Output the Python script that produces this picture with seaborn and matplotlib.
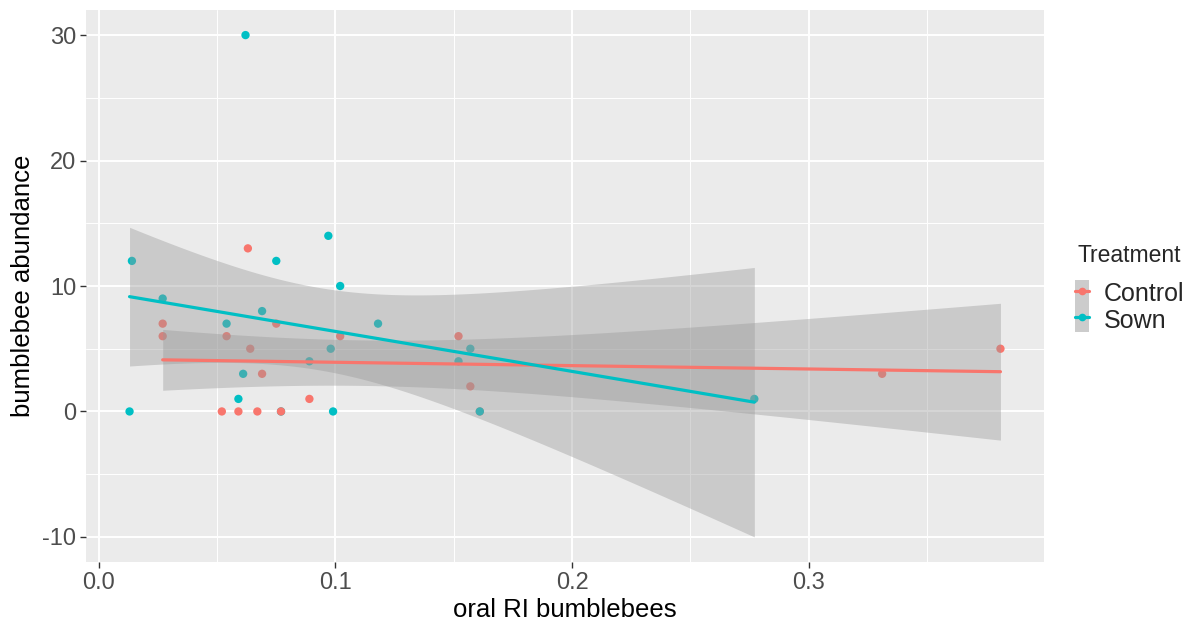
import numpy as np
import pandas as pd
import seaborn as sns
import matplotlib.pyplot as plt
from matplotlib.lines import Line2D
from matplotlib.patches import Patch

# data (two points sit hidden under the other group's point)
control_x = [0.027, 0.027, 0.063, 0.054, 0.075, 0.064, 0.102, 0.069, 0.089,
             0.052, 0.059, 0.067, 0.077, 0.152, 0.157, 0.161, 0.331, 0.381]
control_y = [7, 6, 13, 6, 7, 5, 6, 3, 1, 0, 0, 0, 0, 6, 2, 0, 3, 5]
sown_x = [0.014, 0.013, 0.027, 0.075, 0.097, 0.102, 0.054, 0.069, 0.098, 0.089,
          0.061, 0.059, 0.099, 0.062, 0.118, 0.157, 0.152, 0.161, 0.277, 0.077]
sown_y = [12, 0, 9, 12, 14, 10, 7, 8, 5, 4, 3, 1, 0, 30, 7, 5, 4, 0, 1, 0]
groups = ["Control", "Sown"]
colors = {"Control": "#F8766D", "Sown": "#00BFC4"}
x_ticks = [0.0, 0.1, 0.2, 0.3]
y_ticks = [-10, 0, 10, 20, 30]

df = pd.DataFrame({
    "oral RI bumblebees": control_x + sown_x,
    "bumblebee abundance": control_y + sown_y,
    "Treatment": ["Control"] * len(control_x) + ["Sown"] * len(sown_x),
})
# the sown point at x=0.077 is drawn first so the red one covers it
under = (df["Treatment"] == "Sown") & (df["oral RI bumblebees"] == 0.077)
df = pd.concat([df[under], df[~under]])

# t quantiles (0.975) for n-2 degrees of freedom
t_crit = {16: 2.1199, 18: 2.1009}


def lm_fit(x, y):
    x = np.asarray(x, float)
    y = np.asarray(y, float)
    n = len(x)
    b1, b0 = np.polyfit(x, y, 1)
    resid = y - (b0 + b1 * x)
    s = np.sqrt(np.sum(resid ** 2) / (n - 2))
    xs = np.linspace(x.min(), x.max(), 80)
    fit = b0 + b1 * xs
    se = s * np.sqrt(1 / n + (xs - x.mean()) ** 2 / np.sum((x - x.mean()) ** 2))
    t = t_crit[n - 2]
    return xs, fit, fit - t * se, fit + t * se


sns.set_style("darkgrid", {"axes.facecolor": "#EBEBEB", "grid.color": "white"})
plt.rcParams["font.family"] = ["Liberation Sans", "DejaVu Sans"]
plt.rcParams["axes.unicode_minus"] = False

fig = plt.figure(figsize=(11.93, 6.21), dpi=100)
ax = fig.add_axes([86 / 1193, 1 - 562 / 621, (1044 - 86) / 1193, (562 - 10) / 621])

sns.scatterplot(data=df, x="oral RI bumblebees", y="bumblebee abundance",
                hue="Treatment", palette=colors, s=36, linewidth=0,
                legend=False, ax=ax, zorder=3)

fits = {}
for g in groups:
    sub = df[df["Treatment"] == g]
    fits[g] = lm_fit(sub["oral RI bumblebees"], sub["bumblebee abundance"])
    xs, fit, lo, hi = fits[g]
    ax.fill_between(xs, lo, hi, color="#999999", alpha=0.4, linewidth=0, zorder=4)
for g in groups:
    xs, fit, lo, hi = fits[g]
    ax.plot(xs, fit, color=colors[g], lw=2.3, zorder=5)

# ggplot-like 5% expansion
all_x = np.array(control_x + sown_x)
ylo = min(min(f[2]) for f in fits.values())
yhi = max(max(df["bumblebee abundance"]), max(max(f[3]) for f in fits.values()))
xr = all_x.max() - all_x.min()
ax.set_xlim(all_x.min() - 0.05 * xr, all_x.max() + 0.05 * xr)
yr = yhi - ylo
ax.set_ylim(ylo - 0.05 * yr, yhi + 0.05 * yr)

ax.set_xticks(x_ticks)
ax.set_xticklabels([f"{v:.1f}" for v in x_ticks])
ax.set_yticks(y_ticks)
ax.set_xticks([0.05, 0.15, 0.25, 0.35], minor=True)
ax.set_yticks([-5, 5, 15, 25], minor=True)
ax.grid(which="major", color="white", lw=1.4)
ax.grid(which="minor", color="white", lw=0.7)
ax.set_axisbelow(True)
for sp in ax.spines.values():
    sp.set_visible(False)
ax.tick_params(axis="both", which="major", labelsize=17, labelcolor="#4D4D4D",
               color="#333333", length=4, width=1, direction="out",
               bottom=True, left=True, pad=3)
ax.tick_params(axis="both", which="minor", length=0)
ax.set_xlabel("oral RI bumblebees", fontsize=18.5, color="black", labelpad=3)
ax.set_ylabel("bumblebee abundance", fontsize=18.5, color="black", labelpad=5)

# legend: title as its own text, keys below it
fig.text(1078 / 1193, 1 - 255 / 621, "Treatment", fontsize=16.5,
         ha="left", va="center")
handles = [(Patch(facecolor="#CCCCCC", edgecolor="none"),
            Line2D([], [], color=colors[g], lw=2.3, marker="o", markersize=4.5))
           for g in groups]
leg = fig.legend(handles, groups, loc="upper left",
                 bbox_to_anchor=(1075 / 1193, 1 - 280 / 621), frameon=False,
                 fontsize=18, handlelength=0.55, handleheight=1.2,
                 labelspacing=0, handletextpad=0.6, borderpad=0,
                 borderaxespad=0)

fig.savefig("out.png", dpi=100)
